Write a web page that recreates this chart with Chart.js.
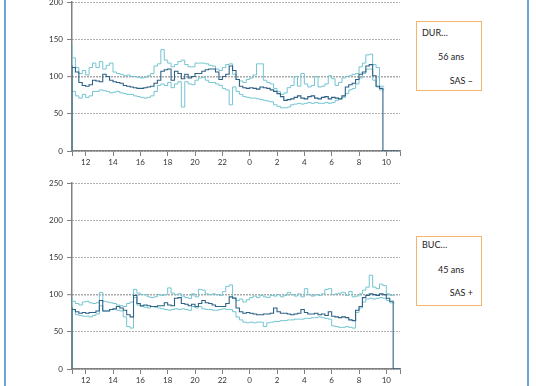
<!DOCTYPE html>
<html><head><meta charset="utf-8">
<script src="https://cdn.jsdelivr.net/npm/chart.js@4"></script>
<style>
html,body{margin:0;padding:0;background:#fff;width:536px;height:386px;overflow:hidden;position:relative;font-family:Lato,"Open Sans",sans-serif;}
.pline{position:absolute;top:0;height:386px;width:2px;background:#6ba5d8;}
.wrap{position:absolute;left:0;width:410px;}
.box{position:absolute;left:416px;width:66px;height:70px;box-sizing:border-box;border:1px solid #f5b46c;font-size:9px;color:#222;}
.box span{position:absolute;white-space:nowrap;line-height:12px;height:12px;}
</style></head>
<body>
<div class="pline" style="left:4px"></div>
<div class="pline" style="left:527px"></div>
<div class="wrap" style="top:-12px;height:180px"><canvas id="c1" width="410" height="180"></canvas></div>
<div class="wrap" style="top:169px;height:217px"><canvas id="c2" width="410" height="217"></canvas></div>
<div class="box" style="top:21px">
  <span style="left:5px;top:5px">DUR…</span>
  <span style="left:21px;top:29px">56 ans</span>
  <span style="right:8px;top:53px">SAS –</span>
</div>
<div class="box" style="top:236px">
  <span style="left:5px;top:2px">BUC…</span>
  <span style="left:21px;top:27px">45 ans</span>
  <span style="right:8px;top:50px">SAS +</span>
</div>
<script>
// time axis (hours; 24 = midnight, 34 = 10h next morning)
const START = 11, STEP = 0.25;
const hourTicks  = [11, 12, 14, 16, 18, 20, 22, 24, 26, 28, 30, 32, 34, 35];
const hourLabels = ['', '12', '14', '16', '18', '20', '22', '0', '2', '4', '6', '8', '10', ''];

// Patient 1 (DUR..., 56 ans, SAS -) — values every 15 min from 11:00
const durMedian = [
 115,112,106,92, 88,87,89,95, 94,93,103,100, 95,93,92,91, 88,87,86,85, 84,84,85,86,
 87,91,95,107, 109,110,95,107, 104,97,103,98, 100,104,104,107, 109,110,110,106,
 96,100,103,114, 108,96,87,85, 84,85,84,83, 86,85,84,82, 80,77,73,68, 69,70,72,74,
 71,70,73,74, 71,70,72,73, 70,72,71,70, 74,86,89,91, 96,103,106,114, 116,101,87,84];
const durUpper = [
 142,125,112,104, 108,102,112,118, 112,120,110,115, 118,106,104,103, 101,102,100,100, 99,98,99,101,
 104,114,117,136, 122,118,113,116, 120,122,116,113, 113,118,118,118, 117,115,114,110,
 108,112,116,117, 103,96,94,92, 96,98,102,117, 117,95,92,90, 84,80,76,78, 85,88,100,87,
 104,90,86,88, 100,86,87,90, 101,97,88,92, 98,100,101,103, 104,113,118,129, 130,116,112,87];
const durLower = [
 92,80,74,71, 76,72,74,80, 80,82,81,80, 78,79,80,78, 77,76,76,74, 73,72,71,72,
 74,80,88,90, 88,92,85,90, 93,59,93,90, 89,95,98,99, 95,92,92,90,
 88,84,82,62, 86,80,76,73, 72,71,71,70, 69,68,67,66, 62,60,58,58, 59,62,63,64,
 63,64,65,64, 65,64,64,65, 64,65,68,70, 72,77,82,84, 90,98,104,110, 110,95,86,82];
const durDrop = 33.85, durEnd = 34.9;

// Patient 2 (BUC..., 45 ans, SAS +)
const bucMedian = [
 83,80,77,75, 76,75,76,76, 78,92,78,78, 80,81,84,82, 79,73,70,99, 88,85,86,85,
 84,84,85,85, 89,86,85,95, 96,88,87,85, 87,84,88,92, 89,88,86,84, 84,84,88,97,
 95,82,77,75, 76,75,74,73, 73,74,74,75, 82,77,75,75, 74,73,74,75, 80,76,74,74,
 75,73,74,72, 77,71,70,69, 70,69,66,65, 79,84,96,99, 101,100,99,101, 100,95,91];
const bucUpper = [
 96,91,88,86, 90,91,89,88, 89,103,91,90, 89,88,86,85, 84,88,90,107, 102,100,100,97,
 96,97,100,99, 100,109,102,100, 101,98,96,95, 101,97,107,106, 101,100,101,100, 99,104,111,113,
 96,92,94,90, 93,96,98,96, 99,97,96,99, 98,100,97,99, 103,100,98,101, 97,108,100,98,
 100,99,101,107, 108,100,101,102, 103,99,104,97, 98,101,106,110, 126,110,108,114, 112,101,99];
const bucLower = [
 88,80,73,72, 71,71,70,72, 74,85,78,78, 80,80,79,78, 70,57,55,96, 86,84,83,82,
 84,83,82,81, 80,79,80,81, 80,81,80,79, 84,82,84,81, 80,80,79,79, 80,81,80,80,
 77,70,66,63, 62,63,62,63, 63,57,62,63, 64,64,65,65, 66,66,67,67, 67,68,68,69,
 69,70,69,68, 67,58,57,56, 56,57,56,55, 76,82,90,94, 95,94,95,96, 95,92,89];
const bucDrop = 34.6, bucEnd = 35;

const MEDIAN_COLOR = '#2d6185', BAND_COLOR = '#74c5d0';
const FONT = {family: 'Lato, "Open Sans", sans-serif', size: 8};

function series(vals, isMedian, drop, end) {
  const p = [{x: START, y: 0}];
  vals.forEach((v, i) => p.push({x: START + i * STEP, y: v}));
  if (isMedian) { p.push({x: drop, y: 0}); p.push({x: end, y: 0}); }
  else p.push({x: drop, y: vals[vals.length - 1]});
  return p;
}

function makeChart(id, yMax, med, up, lo, drop, end) {
  new Chart(document.getElementById(id), {
    type: 'line',
    data: {datasets: [
      {data: series(med, true, drop, end), borderColor: MEDIAN_COLOR, borderWidth: 1.1},
      {data: series(up, false, drop, end), borderColor: BAND_COLOR, borderWidth: 1},
      {data: series(lo, false, drop, end), borderColor: BAND_COLOR, borderWidth: 1}
    ]},
    options: {
      responsive: false, animation: false,
      layout: {padding: {top: 14, right: 10, left: 0, bottom: 0}},
      plugins: {legend: {display: false}, tooltip: {enabled: false}},
      elements: {point: {radius: 0}, line: {stepped: 'after', tension: 0, fill: false}},
      scales: {
        x: {
          type: 'linear', min: 11, max: 35,
          afterBuildTicks: s => { s.ticks = hourTicks.map(v => ({value: v})); },
          afterFit: s => { s.height = 17; },
          ticks: {autoSkip: false, maxRotation: 0, padding: 2, font: FONT, color: '#333',
                  callback: (v, i) => hourLabels[i]},
          grid: {drawOnChartArea: false, drawTicks: true, tickLength: 5, tickColor: '#808080', tickWidth: 1},
          border: {display: true, color: '#808080', width: 1.5}
        },
        y: {
          min: 0, max: yMax,
          afterFit: s => { s.width = 72; },
          ticks: {stepSize: 50, padding: 4, font: FONT, color: '#333'},
          grid: {color: ctx => ctx.tick && ctx.tick.value === 100 ? '#555' : '#666',
                 lineWidth: ctx => ctx.tick && ctx.tick.value === 100 ? 1.4 : 1,
                 tickLength: 5, tickColor: '#808080', tickWidth: 1, tickBorderDash: []},
          border: {display: true, color: '#808080', width: 1.5, dash: [1, 2]}
        }
      }
    }
  });
}

makeChart('c1', 200, durMedian, durUpper, durLower, durDrop, durEnd);
makeChart('c2', 250, bucMedian, bucUpper, bucLower, bucDrop, bucEnd);
</script>
</body></html>
